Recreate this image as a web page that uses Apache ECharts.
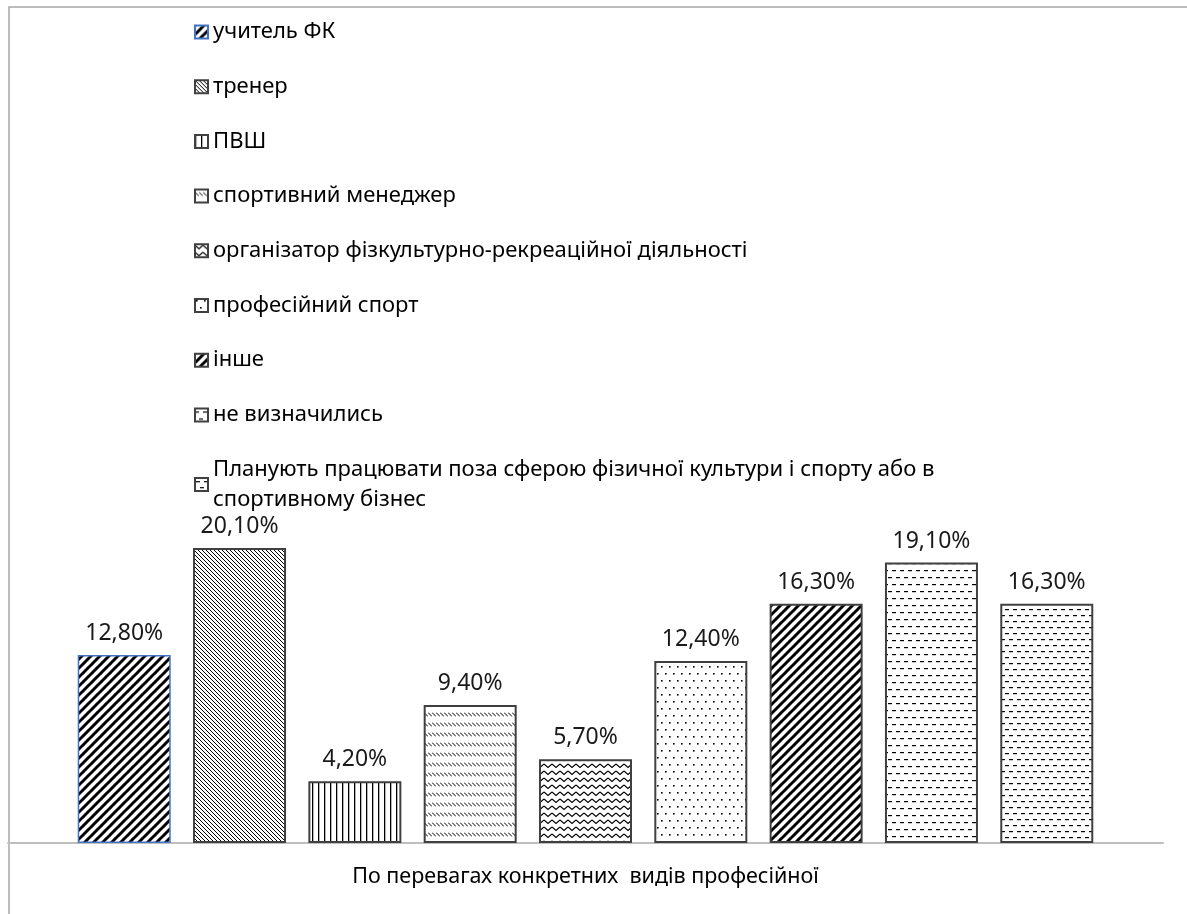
<!DOCTYPE html>
<html><head><meta charset="utf-8">
<script src="https://cdn.jsdelivr.net/npm/echarts@6/dist/echarts.min.js"></script>
<style>html,body{margin:0;padding:0;background:#fff}#c{width:1187px;height:914px}</style>
</head><body><div id="c"></div>
<script>
const category = ['По перевагах конкретних  видів професійної'];
const seriesNames = ['учитель ФК','тренер','ПВШ','спортивний менеджер','організатор фізкультурно-рекреаційної діяльності','професійний спорт','інше','не визначились','Планують працювати поза сферою фізичної культури і спорту або в спортивному бізнес'];
const seriesValues = [12.8, 20.1, 4.2, 9.4, 5.7, 12.4, 16.3, 19.1, 16.3];

function pat(w,h,draw){
  const c=document.createElement('canvas'); c.width=w; c.height=h;
  const ctx=c.getContext('2d'); ctx.fillStyle='#fff'; ctx.fillRect(0,0,w,h);
  ctx.strokeStyle='#000'; ctx.fillStyle='#000'; draw(ctx);
  return {image:c, repeat:'repeat'};
}
function line(ctx,pts,lw){ctx.lineWidth=lw;ctx.beginPath();ctx.moveTo(pts[0][0],pts[0][1]);for(let i=1;i<pts.length;i++)ctx.lineTo(pts[i][0],pts[i][1]);ctx.stroke();}
const thickFwd = () => pat(9,9,ctx=>{ for(const o of [-9,0,9]){ line(ctx,[[o-1,10],[o+10,-1]],3); } });
const fineBack = () => pat(4,4,ctx=>{ for(const o of [-4,0,4]){ line(ctx,[[o-1,-1],[o+5,5]],1); } });
const vert = () => pat(6,6,ctx=>{ ctx.fillRect(0,0,1.3,6); });
const mgr = () => pat(4,10,ctx=>{ line(ctx,[[0,2.5],[4,6.5]],1); });
const zig = () => pat(8,7,ctx=>{ line(ctx,[[0,1],[4,4.5],[8,1]],1.1); });
const dots = () => pat(8,14,ctx=>{ ctx.fillRect(1,1,1.6,1.6); ctx.fillRect(5,8,1.6,1.6); });
const dash1 = () => pat(8,14,ctx=>{ ctx.fillRect(0,3,4,1.2); ctx.fillRect(4,10,4,1.2); });
const dash2 = () => pat(8,12,ctx=>{ ctx.fillRect(1,3,4,1.2); ctx.fillRect(5,9,3,1.2); ctx.fillRect(0,9,1,1.2); });
const patterns = [thickFwd(), fineBack(), vert(), mgr(), zig(), dots(), thickFwd(), dash1(), dash2()];
const borders = ['#4472c4','#404040','#404040','#404040','#404040','#404040','#404040','#404040','#404040'];

const chart = echarts.init(document.getElementById('c'));
const FONT = 'Noto Sans';
chart.setOption({
  animation:false,
  backgroundColor:'#fff',
  graphic:[{type:'rect',shape:{x:9,y:7,width:1300,height:1000},style:{fill:'none',stroke:'#a6a6a6',lineWidth:1.5},silent:true}],
  legend:{
    orient:'vertical', left:189, top:12, itemWidth:13, itemHeight:13, itemGap:24.7,
    icon:'rect',
    textStyle:{fontFamily:FONT,fontSize:22,color:'#000',lineHeight:30},
    formatter: n => n.startsWith('Планують') ? 'Планують працювати поза сферою фізичної культури і спорту або в\nспортивному бізнес' : n,
    data: seriesNames
  },
  grid:{left:8,right:24,top:476,bottom:71},
  xAxis:{type:'category',data:category,
    axisLine:{lineStyle:{color:'#bfbfbf',width:2}},axisTick:{show:false},
    axisLabel:{margin:23,fontFamily:FONT,fontSize:21.5,color:'#000'}},
  yAxis:{type:'value',min:0,max:25,show:false,splitLine:{show:false}},
  series: seriesNames.map((n,i)=>({
    name:n,type:'bar',data:[seriesValues[i]],barWidth:93,barGap:'24%',
    itemStyle:{color:patterns[i],borderColor:borders[i],borderWidth:i===0?1.5:2},
    label:{show:true,position:'top',distance:10,fontFamily:FONT,fontSize:23,color:'#1a1a1a',
      formatter:p=>p.value.toFixed(2).replace('.',',')+'%'}
  }))
});
</script></body></html>
